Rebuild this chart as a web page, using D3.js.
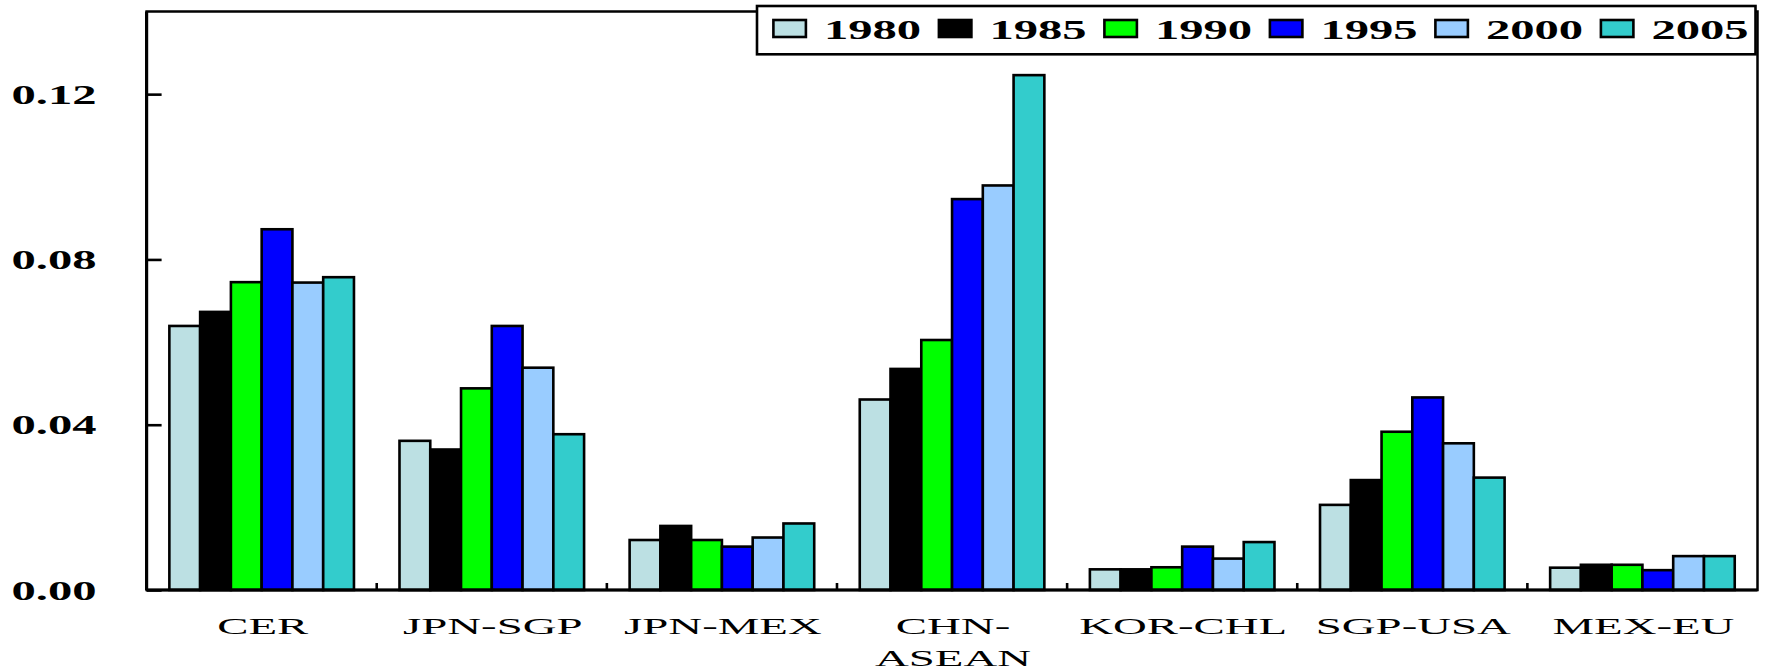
<!DOCTYPE html>
<html>
<head>
<meta charset="utf-8">
<script src="https://cdn.jsdelivr.net/npm/d3@7"></script>
<style>
  body { margin: 0; background: #fff; }
  svg { display: block; }
  text { font-family: "Liberation Serif", "Times New Roman", serif; fill: #000; }
</style>
</head>
<body>
<svg id="chart"></svg>
<script>
// data
const categories = ['CER', 'JPN-SGP', 'JPN-MEX', 'CHN-ASEAN', 'KOR-CHL', 'SGP-USA', 'MEX-EU'];
const categoryLines = [['CER'], ['JPN-SGP'], ['JPN-MEX'], ['CHN-', 'ASEAN'], ['KOR-CHL'], ['SGP-USA'], ['MEX-EU']];
const years = ['1980', '1985', '1990', '1995', '2000', '2005'];
const yearColors = ['#bce0e3', '#000000', '#00ff00', '#0000ff', '#99ccff', '#33cccc'];

const v1980 = [0.0639, 0.0361, 0.0121, 0.0461, 0.0050, 0.0206, 0.0054];
const v1985 = [0.0673, 0.0340, 0.0155, 0.0535, 0.0050, 0.0266, 0.0061];
const v1990 = [0.0745, 0.0488, 0.0121, 0.0605, 0.0055, 0.0383, 0.0061];
const v1995 = [0.0873, 0.0639, 0.0105, 0.0946, 0.0105, 0.0466, 0.0048];
const v2000 = [0.0744, 0.0538, 0.0127, 0.0979, 0.0076, 0.0355, 0.0082];
const v2005 = [0.0757, 0.0377, 0.0161, 0.1246, 0.0116, 0.0272, 0.0082];
const seriesValues = [v1980, v1985, v1990, v1995, v2000, v2005];

const yTicks = [0, 0.04, 0.08, 0.12];
const yMax = 0.14;

const W = 1770, H = 672;
const plot = { left: 146.6, right: 1757.5, top: 11.5, bottom: 590 };
// the original picture is stretched sideways, so the text is too
const boldStretch = 1.8, plainStretch = 1.95;

const svg = d3.select('#chart').attr('width', W).attr('height', H);

const x0 = d3.scaleBand().domain(categories).range([plot.left, plot.right]).padding(0);
const x1 = d3.scaleBand().domain(years).range([0, x0.bandwidth()])
    .paddingInner(0).paddingOuter(0.74);
const y = d3.scaleLinear().domain([0, yMax]).range([plot.bottom, plot.top]);
const color = d3.scaleOrdinal().domain(years).range(yearColors);

// table for the bars
const rows = [];
categories.forEach((c, i) => {
  years.forEach((yr, j) => rows.push({ cat: c, year: yr, value: seriesValues[j][i] }));
});

// bars
svg.append('g')
  .selectAll('rect')
  .data(rows)
  .join('rect')
    .attr('x', d => x0(d.cat) + x1(d.year))
    .attr('y', d => y(d.value))
    .attr('width', x1.bandwidth())
    .attr('height', d => y(0) - y(d.value))
    .attr('fill', d => color(d.year))
    .attr('stroke', '#000')
    .attr('stroke-width', 2.6);

// frame
svg.append('rect')
    .attr('x', plot.left).attr('y', plot.top)
    .attr('width', plot.right - plot.left)
    .attr('height', plot.bottom - plot.top)
    .attr('fill', 'none')
    .attr('stroke', '#000')
    .attr('stroke-width', 2.5);
svg.append('line')
    .attr('x1', plot.left).attr('x2', plot.left)
    .attr('y1', plot.top).attr('y2', plot.bottom)
    .attr('stroke', '#000').attr('stroke-width', 3.2);
svg.append('line')
    .attr('x1', plot.left).attr('x2', plot.right)
    .attr('y1', plot.bottom).attr('y2', plot.bottom)
    .attr('stroke', '#000').attr('stroke-width', 3.2);

// y axis, ticks point inward
const yAxis = d3.axisLeft(y)
    .tickValues(yTicks)
    .tickSize(-15)
    .tickPadding(0)
    .tickFormat(d3.format('.2f'));

const yAxisG = svg.append('g')
    .attr('transform', `translate(${plot.left},0)`)
    .call(yAxis)
    .call(g => g.select('.domain').remove());

yAxisG.selectAll('.tick line')
    .attr('stroke', '#000')
    .attr('stroke-width', 2.6);

yAxisG.selectAll('.tick text')
    .attr('x', null)
    .attr('dy', '0.34em')
    .attr('transform', `translate(-50,0) scale(${boldStretch},1)`)
    .attr('text-anchor', 'end')
    .style('font-family', '"Liberation Serif", serif')
    .style('font-size', '27px')
    .style('font-weight', 'bold')
    .attr('fill', '#000');

// small ticks between categories on the x axis
svg.append('g')
  .selectAll('line')
  .data(categories.slice(1))
  .join('line')
    .attr('x1', d => x0(d)).attr('x2', d => x0(d))
    .attr('y1', plot.bottom).attr('y2', plot.bottom - 7)
    .attr('stroke', '#000')
    .attr('stroke-width', 2.6);

// category labels
const catLabels = svg.append('g')
  .selectAll('text')
  .data(categories)
  .join('text')
    .attr('text-anchor', 'middle')
    .attr('transform', d => `translate(${x0(d) + x0.bandwidth() / 2 + 1},634) scale(${plainStretch},1)`)
    .style('font-size', '24px');

catLabels.each(function(d, i) {
  d3.select(this).selectAll('tspan')
    .data(categoryLines[i])
    .join('tspan')
      .attr('x', 0)
      .attr('dy', (t, k) => k === 0 ? 0 : 32)
      .text(t => t);
});

// legend
const legend = { x: 757, y: 6, w: 998.5, h: 48.3, first: 773.4, step: 165.5 };

svg.append('rect')
    .attr('x', legend.x).attr('y', legend.y)
    .attr('width', legend.w).attr('height', legend.h)
    .attr('fill', '#fff')
    .attr('stroke', '#000')
    .attr('stroke-width', 2.6);

const legendItems = svg.append('g')
  .selectAll('g')
  .data(years)
  .join('g')
    .attr('transform', (d, i) => `translate(${legend.first + i * legend.step},0)`);

legendItems.append('rect')
    .attr('x', 0).attr('y', 20)
    .attr('width', 32.5).attr('height', 17)
    .attr('fill', d => color(d))
    .attr('stroke', '#000')
    .attr('stroke-width', 2.6);

legendItems.append('text')
    .attr('transform', `translate(50.5,38.5) scale(${boldStretch},1)`)
    .style('font-size', '27px')
    .style('font-weight', 'bold')
    .text(d => d);
</script>
</body>
</html>
